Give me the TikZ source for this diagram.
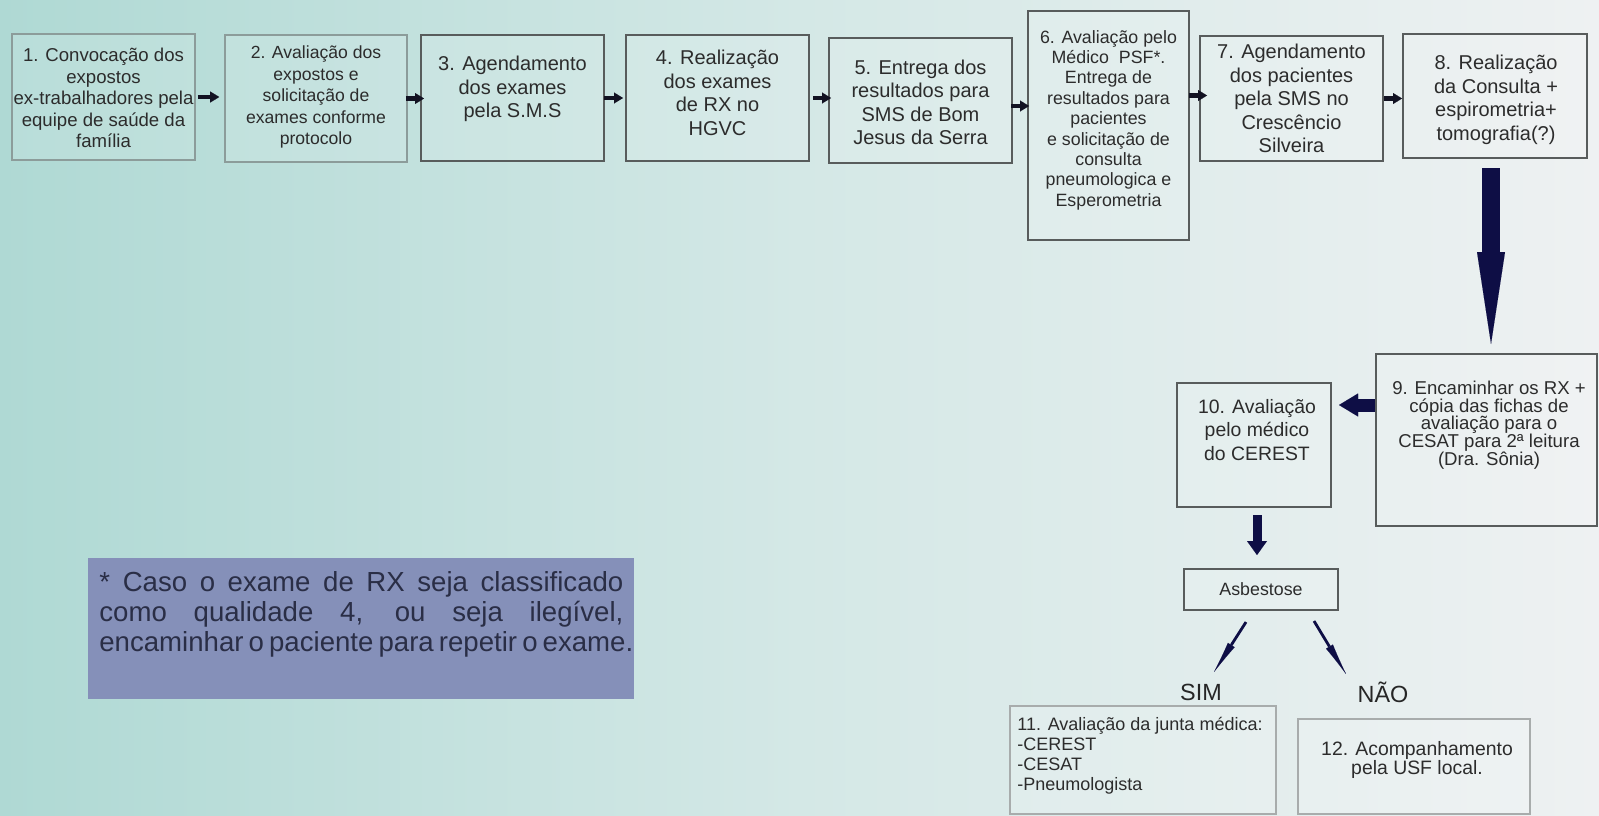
\documentclass[tikz,border=0pt]{standalone}
\usepackage{fontspec}
\setmainfont{Liberation Sans}
\usetikzlibrary{arrows.meta,fit,calc}
\definecolor{bgL}{HTML}{AFD9D4}
\definecolor{bgM}{HTML}{D4E8E6}
\definecolor{bgR}{HTML}{EEF1F2}
\definecolor{navy}{HTML}{0E0E45}
\definecolor{darkarr}{HTML}{121222}
\definecolor{notefill}{HTML}{8590B9}
\definecolor{notetext}{HTML}{2A2E46}
\definecolor{txtgray}{HTML}{2C2C2C}
\definecolor{edgedark}{HTML}{585C5C}
\definecolor{edgelight}{HTML}{8C9C9A}
\definecolor{edgepale}{HTML}{A8ACAC}
\begin{document}
\begin{tikzpicture}[x=0.5pt,y=-0.5pt,
  boxd/.style={draw=edgedark, line width=1pt, fill=white, fill opacity=0.12, inner sep=0pt},
  boxl/.style={draw=edgelight, line width=0.8pt, fill=white, fill opacity=0.12, inner sep=0pt},
  boxp/.style={draw=edgepale, line width=0.7pt, fill=white, fill opacity=0.15, inner sep=0pt},
  txt/.style={text=txtgray, align=center, inner sep=0pt},
  fA/.style={font=\fontsize{9.3}{10.75}\selectfont},
  fB/.style={font=\fontsize{10}{11.75}\selectfont},
  smallarr/.style={draw=darkarr, line width=2.3pt, -{Triangle[length=4.5pt,width=5.5pt,line width=0.01pt]}},
  bigarr/.style={draw=navy},
  thinarr/.style={draw=navy, line width=1.4pt, -{Latex[length=16pt,width=4pt,line width=0.01pt]}}
]
\shade[left color=bgL, right color=bgR, middle color=bgM] (0,0) rectangle (1599,815);
\useasboundingbox (0,0) rectangle (1599,815);

% boxes
\node[boxl, fit={(12,34) (195,160)}] (b1) {};
\node[boxl, fit={(225,35) (407,162)}] (b2) {};
\node[boxd, fit={(421,35) (604,161)}] (b3) {};
\node[boxd, fit={(626,35) (809,161)}] (b4) {};
\node[boxd, fit={(829,38) (1012,163)}] (b5) {};
\node[boxd, fit={(1028,11) (1189,240)}] (b6) {};
\node[boxd, fit={(1200,36) (1383,161)}] (b7) {};
\node[boxd, fit={(1403,34) (1587,158)}] (b8) {};
\node[boxd, fit={(1376,354) (1597,526)}] (b9) {};
\node[boxd, fit={(1177,383) (1331,507)}] (b10) {};
\node[boxd, fit={(1184,569) (1338,610)}] (asb) {};
\node[boxp, fit={(1010,706) (1276,814)}] (b11) {};
\node[boxp, fit={(1298,719) (1530,814)}] (b12) {};
\node[fill=notefill, inner sep=0pt, fit={(88,558) (634,699)}] (note) {};

% texts
\node[txt, fA] (t1) at (103.5,98) {1. Convocação dos\\expostos\\ex-trabalhadores pela\\equipe de saúde da\\família};
\node[txt, font=\fontsize{8.8}{10.75}\selectfont] (t2) at (316,97) {2. Avaliação dos\\expostos e\\solicitação de\\exames conforme\\protocolo};
\node[txt, fB] (t3) at (512.5,89) {3. Agendamento\\dos exames\\pela S.M.S};
\node[txt, fB] (t4) at (717.5,93) {4. Realização\\dos exames\\de RX no\\HGVC};
\node[txt, fB] (t5) at (920.5,102.5) {5. Entrega dos\\resultados para\\SMS de Bom\\Jesus da Serra};
\node[txt, font=\fontsize{8.9}{10.2}\selectfont] (t6) at (1108.5,120) {6. Avaliação pelo\\Médico\ \ PSF*.\\Entrega de\\resultados para\\pacientes\\e solicitação de\\consulta\\pneumologica e\\Esperometria};
\node[txt, fB] (t7) at (1291.5,98.5) {7. Agendamento\\dos pacientes\\pela SMS no\\Crescêncio\\Silveira};
\node[txt, fB] (t8) at (1496,100) {8. Realização\\da Consulta +\\espirometria+\\tomografia(?)};
\node[txt, font=\fontsize{9.3}{8.9}\selectfont] (t9) at (1489,425) {9. Encaminhar os RX +\\cópia das fichas de\\avaliação para o\\CESAT para 2ª leitura\\(Dra. Sônia)};
\node[txt, font=\fontsize{9.7}{11.75}\selectfont] (t10) at (1257,430) {10. Avaliação\\pelo médico\\do CEREST};
\node[txt, font=\fontsize{8.9}{10}\selectfont] (tasb) at (1261,589) {Asbestose};
\node[txt, align=left, anchor=west, font=\fontsize{9}{10}\selectfont] (t11) at (1017,756) {11. Avaliação da junta médica:\\-CEREST\\-CESAT\\-Pneumologista};
\node[txt, font=\fontsize{9.7}{9.6}\selectfont] (t12) at (1417,760) {12. Acompanhamento\\pela USF local.};
\node[txt, text=black!85, font=\fontsize{11.7}{14}\selectfont] (sim) at (1201,692) {SIM};
\node[txt, text=black!85, font=\fontsize{11.7}{14}\selectfont] (nao) at (1383,692) {NÃO};
\node[inner sep=0pt, anchor=west, align=left, text=notetext, font=\fontsize{13.8}{15}\selectfont] (nt) at (99,614)
  {\spaceskip=0.05em plus 1fil\relax
   \makebox[262pt][s]{* Caso o exame de RX seja classificado}\\
   \makebox[262pt][s]{como qualidade 4, ou seja ilegível,}\\
   \makebox[262pt][s]{encaminhar o paciente para repetir o exame.}};

% small arrows along the top row
\draw[smallarr] ([xshift=1pt]b1.east) -- ([xshift=-2.5pt]b1.east -| b2.west);
\draw[smallarr] ([xshift=-1pt]b2.east) -- ([xshift=2pt]b2.east -| b3.west);
\draw[smallarr] ([xshift=-0.5pt]b3.east) -- ([xshift=-1pt]b3.east -| b4.west);
\draw[smallarr] ([xshift=1.5pt]b4.east) -- ([xshift=1.5pt]b4.east -| b5.west);
\draw[smallarr] ([xshift=-1pt,yshift=-2.75pt]b5.east) -- ([xshift=1pt,yshift=-2.75pt]b5.east -| b6.west);
\draw[smallarr] ([xshift=-0.5pt,yshift=1.5pt]b7.west -| b6.east) -- ([xshift=4pt,yshift=1.5pt]b7.west);
\draw[smallarr] (b7.east) -- (b7.east -| b8.west);

% big block arrows
\draw[bigarr, line width=9pt, -{Triangle[length=46pt,width=14pt,line width=0.01pt]}, shorten <=4.5pt, shorten >=4.5pt]
  ([xshift=-2pt]b8.south) -- ([xshift=-2pt]b8.south |- b9.north);
\draw[bigarr, line width=6.5pt, -{Triangle[length=9.5pt,width=11.5pt,line width=0.01pt]}, shorten >=3.5pt]
  ([yshift=17.5pt]b9.west) -- ([yshift=17.5pt]b9.west -| b10.east);
\draw[bigarr, line width=4.5pt, -{Triangle[length=7pt,width=10pt,line width=0.01pt]}, shorten <=3.5pt, shorten >=6.5pt]
  ([xshift=1.5pt]b10.south) -- ([xshift=1.5pt]b10.south |- asb.north);

% decision branches
\draw[thinarr] ([xshift=-7.5pt,yshift=-5.5pt]asb.south) -- ([xshift=6.5pt,yshift=10pt]sim.center);
\draw[thinarr] ([xshift=26.5pt,yshift=-5pt]asb.south) -- ([xshift=-18.5pt,yshift=9pt]nao.center);
\end{tikzpicture}
\end{document}
